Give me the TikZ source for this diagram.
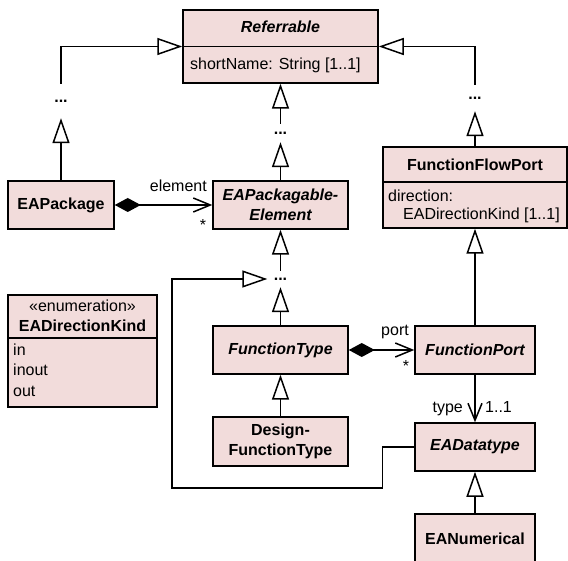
\documentclass[tikz,border=0pt]{standalone}
\usepackage{fontspec}
\setmainfont{Liberation Sans}
\usetikzlibrary{arrows.meta}
\definecolor{umlfill}{RGB}{242,220,219}
\begin{document}
\begin{tikzpicture}[x=1pt,y=-1pt,
  cls/.style={draw, fill=umlfill, line width=1.5pt, inner sep=0pt, align=center, font=\fontsize{16}{20}\selectfont\bfseries},
  acls/.style={cls, font=\fontsize{16}{20}\selectfont\bfseries\itshape},
  txt/.style={inner sep=0pt, font=\fontsize{16}{20}\selectfont},
  dotsty/.style={inner sep=0pt, font=\fontsize{16}{20}\selectfont\bfseries, minimum width=26pt},
  sep/.style={line width=1.5pt},
  gen/.style={line width=1.5pt, -{Triangle[open, fill=white, length=25pt, width=17pt]}},
  nav/.style={line width=1.5pt, -{Straight Barb[length=17pt, width=14pt]}},
  comp/.style={line width=1.5pt, {Diamond[length=26pt, width=14pt]}-{Straight Barb[length=17pt, width=14pt]}},
]
\useasboundingbox (0,0) rectangle (568,561);

% classes
\node[acls, minimum width=195pt, minimum height=73pt] (ref) at (280.5,46.5) {};
\draw[sep] (ref.west) -- (ref.east);
\node[txt, font=\fontsize{16}{20}\selectfont\bfseries\itshape, anchor=base] (reft) at (280.5,33) {Referrable};
\node[txt, anchor=base west] (refa) at (190,70) {shortName: String [1..1]};

\node[cls, minimum width=106pt, minimum height=48pt] (pkg) at (61,205) {EAPackage};
\node[acls, minimum width=135pt, minimum height=48pt] (pe) at (280.5,205) {EAPackagable-\\Element};

\node[cls, minimum width=184pt, minimum height=81pt] (ffp) at (475,187.5) {};
\draw[sep] (ffp.west |- 0,182) -- (ffp.east |- 0,182);
\node[txt, font=\fontsize{16}{20}\selectfont\bfseries, anchor=base] (ffpt) at (475,171) {FunctionFlowPort};
\node[txt, anchor=base west] (ffpa1) at (388,202) {direction:};
\node[txt, anchor=base west] (ffpa2) at (403,220) {EADirectionKind [1..1]};

\node[cls, minimum width=149pt, minimum height=112pt] (edk) at (82.5,351) {};
\draw[sep] (edk.west |- 0,338) -- (edk.east |- 0,338);
\node[txt, anchor=base] (edks) at (82.5,312) {«enumeration»};
\node[txt, font=\fontsize{16}{20}\selectfont\bfseries, anchor=base] (edkt) at (82.5,332) {EADirectionKind};
\node[txt, anchor=base west] (edk1) at (13,356) {in};
\node[txt, anchor=base west] (edk2) at (13,376) {inout};
\node[txt, anchor=base west] (edk3) at (13,396) {out};

\node[acls, minimum width=135pt, minimum height=48pt] (ft) at (280.5,350) {FunctionType};
\node[acls, minimum width=120pt, minimum height=48pt] (fp) at (475,350) {FunctionPort};
\node[cls, minimum width=135pt, minimum height=49pt] (dft) at (280.5,441.5) {Design-\\FunctionType};
\node[acls, minimum width=120pt, minimum height=48pt] (ead) at (475,447) {EADatatype};
\node[cls, minimum width=120pt, minimum height=49pt] (ean) at (475,538.5) {EANumerical};

% ellipsis nodes
\node[dotsty, minimum height=34pt] (dl) at (61,101) {...};
\node[dotsty, minimum height=26pt] (dr) at (475,98) {...};
\node[dotsty, minimum height=18pt] (dma) at (280.5,133) {...};
\node[dotsty, minimum height=16pt] (dmb) at (280.5,279) {...};

% generalizations
\draw[gen] (dl.north) |- (ref.west);
\draw[gen] (pkg.north) -- (dl.south);
\draw[gen] (dr.north) |- (ref.east);
\draw[gen] (ffp.north) -- (dr.south);
\draw[gen] (dma.north) -- (ref.south);
\draw[gen] (pe.north) -- (dma.south);
\draw[gen] (dmb.north) -- (pe.south);
\draw[gen] (ft.north) -- (dmb.south);
\draw[gen] (dft.north) -- (ft.south);
\draw[gen] (fp.north) -- (ffp.south);
\draw[gen] (ean.north) -- (ead.south);
\draw[gen] (ead.west) -- ++(-32,0) |- (172,488) |- (dmb.west);

% associations
\draw[comp] (pkg.east) -- (pe.west);
\draw[comp] (ft.east) -- (fp.west);
\draw[nav] (fp.south) -- (ead.north);

% labels
\node[txt, anchor=base east] (lel) at (207,192) {element};
\node[txt, anchor=base] (lsa) at (203,231) {*};
\node[txt, anchor=base east] (lport) at (409,336) {port};
\node[txt, anchor=base] (lsb) at (406,372) {*};
\node[txt, anchor=base east] (ltype) at (463,413) {type};
\node[txt, anchor=base west] (lmult) at (485,413) {1..1};
\end{tikzpicture}
\end{document}
